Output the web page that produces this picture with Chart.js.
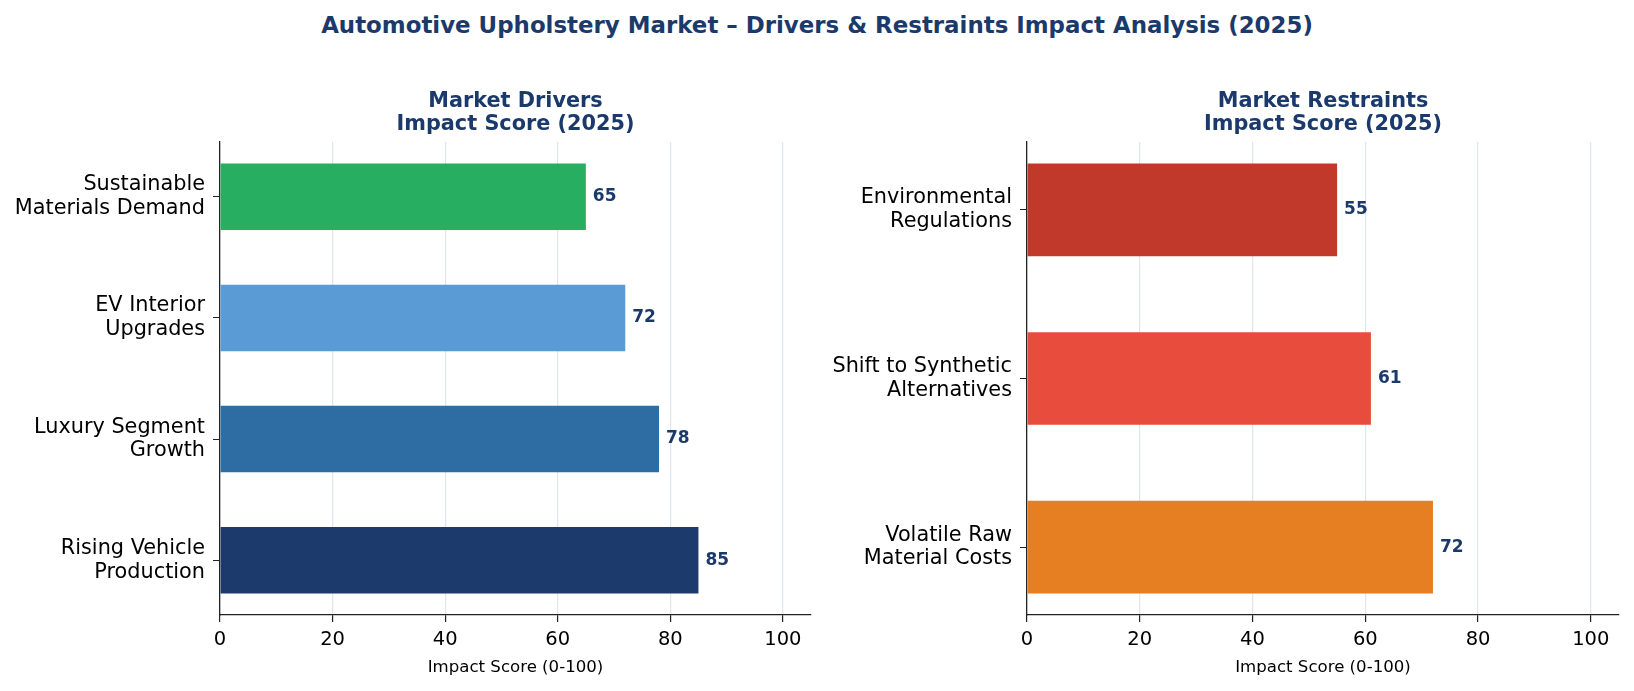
<!DOCTYPE html>
<html>
<head>
<meta charset="utf-8">
<script src="https://cdn.jsdelivr.net/npm/chart.js@4.4.1/dist/chart.umd.min.js"></script>
<style>
  html, body { margin: 0; padding: 0; background: #fff; }
  body { width: 1634px; height: 691px; position: relative; overflow: hidden; font-family: "DejaVu Sans", sans-serif; }
  #title { position: absolute; left: 0; top: 12px; width: 1634px; text-align: center; font-weight: bold; font-size: 22.9px; line-height: 27px; color: #1b3a6b; }
  .box { position: absolute; top: 0; width: 817px; height: 691px; }
</style>
</head>
<body>
<div id="title">Automotive Upholstery Market – Drivers &amp; Restraints Impact Analysis (2025)</div>
<div class="box" style="left:0"><canvas id="drivers"></canvas></div>
<div class="box" style="left:817px"><canvas id="restraints"></canvas></div>
<script>
// bottom to top, like the original barh order
const driverLabels = [["Rising Vehicle", "Production"], ["Luxury Segment", "Growth"], ["EV Interior", "Upgrades"], ["Sustainable", "Materials Demand"]];
const driverScores = [85, 78, 72, 65];
const driverColors = ["#1c3a6b", "#2e6da4", "#5b9bd5", "#27ae60"];

const restraintLabels = [["Volatile Raw", "Material Costs"], ["Shift to Synthetic", "Alternatives"], ["Environmental", "Regulations"]];
const restraintScores = [72, 61, 55];
const restraintColors = ["#e67e22", "#e74c3c", "#c0392b"];

const xTicks = [0, 20, 40, 60, 80, 100];
const xMax = 105;

const navy = "#1b3a6b";
const family = "'DejaVu Sans', sans-serif";
Chart.defaults.font.family = family;

const valueLabels = {
  id: "valueLabels",
  afterDatasetsDraw(chart) {
    const ctx = chart.ctx;
    const meta = chart.getDatasetMeta(0);
    const data = chart.data.datasets[0].data;
    ctx.save();
    ctx.font = "bold 17px " + family;
    ctx.fillStyle = navy;
    ctx.textAlign = "left";
    ctx.textBaseline = "middle";
    meta.data.forEach((bar, i) => ctx.fillText(data[i].x, bar.x + 7, bar.y));
    ctx.restore();
  }
};

function makeChart(id, labels, scores, colors, title, yWidth, padRight) {
  // matplotlib style limits: bar height 0.55 plus 5% margin
  const span = labels.length - 1 + 0.55;
  const yMin = -0.275 - span * 0.05;
  const yMax = labels.length - 1 + 0.275 + span * 0.05;

  new Chart(document.getElementById(id), {
    type: "bar",
    data: {
      datasets: [{
        data: scores.map((v, i) => ({ x: v, y: i })),
        backgroundColor: colors,
        borderWidth: 0,
        categoryPercentage: 1,
        barPercentage: 0.55
      }]
    },
    options: {
      indexAxis: "y",
      animation: false,
      responsive: true,
      maintainAspectRatio: false,
      layout: { padding: { top: 90.5, right: padRight, bottom: 0, left: 0 } },
      plugins: {
        legend: { display: false },
        tooltip: { enabled: false },
        title: {
          display: true,
          fullSize: false,
          text: title,
          color: navy,
          font: { size: 20.8, weight: "bold", lineHeight: "23px" },
          padding: { top: 0, bottom: 5.5 }
        }
      },
      scales: {
        x: {
          type: "linear",
          position: "bottom",
          min: 0,
          max: xMax,
          afterBuildTicks: s => { s.ticks = xTicks.map(v => ({ value: v })); },
          afterFit: s => { s.height = 76; },
          grid: { color: "#e1e4ec", lineWidth: 1.2, tickColor: "#222", tickLength: 7 },
          border: { display: true, color: "#222", width: 1.3 },
          ticks: { color: "#000", font: { size: 19.5 }, padding: 6, maxRotation: 0, autoSkip: false },
          title: { display: true, text: "Impact Score (0-100)", color: "#000", font: { size: 16.6 }, padding: { top: 0, bottom: 13.5 } }
        },
        y: {
          type: "linear",
          min: yMin,
          max: yMax,
          offset: false,
          afterBuildTicks: s => { s.ticks = labels.map((l, i) => ({ value: i })); },
          afterFit: s => { s.width = yWidth; },
          grid: { drawOnChartArea: false, offset: false, color: "#222", tickColor: "#222", tickLength: 7 },
          border: { display: true, color: "#222", width: 1.3 },
          ticks: { color: "#000", font: { size: 20.8, lineHeight: 1.15 }, padding: 8, autoSkip: false, callback: v => labels[v] }
        }
      }
    },
    plugins: [valueLabels]
  });
}

makeChart("drivers", driverLabels, driverScores, driverColors, ["Market Drivers", "Impact Score (2025)"], 220, 6);
makeChart("restraints", restraintLabels, restraintScores, restraintColors, ["Market Restraints", "Impact Score (2025)"], 210, 15);
</script>
</body>
</html>
